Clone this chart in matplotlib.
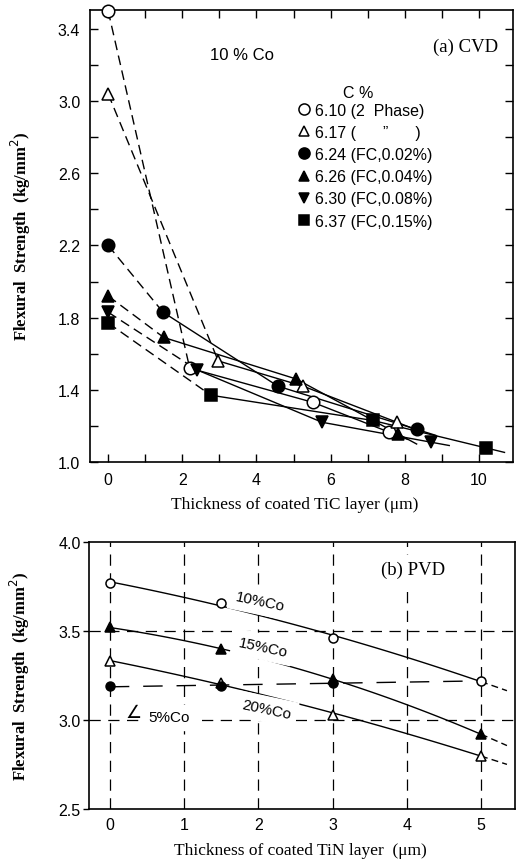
import numpy as np
import matplotlib
matplotlib.use("Agg")
import matplotlib.pyplot as plt
from matplotlib.lines import Line2D

# ---------------- data: panel (a) CVD ----------------
cvd_labels = ["6.10 (2  Phase)", "6.17 (      \u201d      )", "6.24 (FC,0.02%)",
              "6.26 (FC,0.04%)", "6.30 (FC,0.08%)", "6.37 (FC,0.15%)"]
cvd_x_610 = [0, 2.2, 5.53, 7.57]
cvd_y_610 = [3.50, 1.52, 1.33, 1.166]
cvd_x_617 = [0, 2.97, 5.26, 7.79]
cvd_y_617 = [3.04, 1.56, 1.42, 1.22]
cvd_x_624 = [0, 1.48, 4.58, 8.33]
cvd_y_624 = [2.20, 1.83, 1.42, 1.18]
cvd_x_626 = [0, 1.5, 5.07, 7.82]
cvd_y_626 = [1.92, 1.69, 1.46, 1.155]
cvd_x_630 = [0, 2.4, 5.77, 8.7]
cvd_y_630 = [1.83, 1.51, 1.22, 1.11]
cvd_x_637 = [0, 2.77, 7.14, 10.19]
cvd_y_637 = [1.77, 1.37, 1.23, 1.078]

# ---------------- data: panel (b) PVD ----------------
pvd_x = [0, 1.5, 3, 5]
pvd_10co = [3.77, 3.66, 3.46, 3.22]
pvd_15co = [3.52, 3.40, 3.23, 2.92]
pvd_20co = [3.33, 3.21, 3.03, 2.80]
pvd_x5 = [0, 1.5, 3]
pvd_5co = [3.19, 3.19, 3.21]

SANS = ["Liberation Sans", "DejaVu Sans"]
SERIF = ["Liberation Serif", "DejaVu Serif"]

fig = plt.figure(figsize=(5.21, 8.62), dpi=100)

# ================= panel (a) =================
axa = fig.add_axes([0.1727, 0.4629, 0.812, 0.5244])
axa.set_xlim(-0.49, 10.92)
axa.set_ylim(1.0, 3.505)

dash = (0, (7, 4))
lw = 1.0
mk_specs = [("o", "white"), ("^", "white"), ("o", "black"),
            ("^", "black"), ("v", "black"), ("s", "black")]
mk_sizes = [9, 8, 9, 8, 8, 8]
series = [(cvd_x_610, cvd_y_610), (cvd_x_617, cvd_y_617), (cvd_x_624, cvd_y_624),
          (cvd_x_626, cvd_y_626), (cvd_x_630, cvd_y_630), (cvd_x_637, cvd_y_637)]

for (xs, ys), (m, fc), ms in zip(series, mk_specs, mk_sizes):
    xs = np.asarray(xs, float)
    ys = np.asarray(ys, float)
    # dashed first segment from the uncoated value
    axa.plot(xs[:2], ys[:2], color="black", lw=lw, linestyle=dash, zorder=2)
    # solid through coated values, extended slightly past last point
    slope = (ys[-1] - ys[-2]) / (xs[-1] - xs[-2])
    ext_x = xs[-1] + 0.5
    ext_y = ys[-1] + slope * 0.5
    axa.plot(np.append(xs[1:], ext_x), np.append(ys[1:], ext_y),
             color="black", lw=lw, zorder=2)
    axa.plot(xs, ys, linestyle="none", marker=m, markersize=ms,
             markerfacecolor=fc, markeredgecolor="black", markeredgewidth=1.1,
             zorder=3, clip_on=False)

axa.set_xticks(range(0, 11, 2))
axa.set_xticks(range(0, 11), minor=True)
axa.set_yticks(np.arange(1.0, 3.45, 0.4))
axa.set_yticks(np.arange(1.0, 3.45, 0.2), minor=True)
axa.set_yticklabels([f"{v:.1f}" for v in np.arange(1.0, 3.45, 0.4)])
axa.tick_params(which="both", direction="in", top=True, right=True,
                width=1.0, labelsize=11.5)
axa.tick_params(which="major", length=6, pad=7)
axa.tick_params(which="minor", length=6)
for lab in axa.get_xticklabels() + axa.get_yticklabels():
    lab.set_family(SANS)
for sp in axa.spines.values():
    sp.set_linewidth(1.2)

axa.set_xlabel("Thickness of coated TiC layer (\u03bcm)", family=SERIF, fontsize=12.5)
axa.xaxis.set_label_coords(0.485, -0.075)
axa.set_ylabel("Flexural  Strength  (kg/mm$^2$)", family=SERIF, fontsize=12,
               fontweight="bold")
axa.yaxis.set_label_coords(-0.135, 0.5)

axa.text(0.359, 0.901, "10 % Co", transform=axa.transAxes, family=SANS,
         fontsize=12, ha="center", va="center")
axa.text(0.888, 0.919, "(a) CVD", transform=axa.transAxes, family=SERIF,
         fontsize=13.5, ha="center", va="center")
axa.text(0.635, 0.818, "C %", transform=axa.transAxes, family=SANS,
         fontsize=11.5, ha="center", va="center")

handles = [Line2D([], [], linestyle="none", marker=m, markersize=ms - 1,
                  markerfacecolor=fc, markeredgecolor="black", markeredgewidth=1.1)
           for (m, fc), ms in zip(mk_specs, mk_sizes)]
leg = axa.legend(handles, cvd_labels, loc="upper left",
                 bbox_to_anchor=(0.49, 0.795), frameon=False,
                 handlelength=0.8, handletextpad=0.3, labelspacing=0.45,
                 borderaxespad=0, borderpad=0,
                 prop={"family": SANS, "size": 11.5})

# ================= panel (b) =================
axb = fig.add_axes([0.171, 0.0603, 0.8177, 0.3097])
axb.set_xlim(-0.28, 5.46)
axb.set_ylim(2.5, 4.0)

# broken grid lines
grid_dash = (0, (9, 6))
for gx in range(0, 6):
    axb.axvline(gx, color="black", lw=0.9, linestyle=grid_dash, zorder=1)
for gy in (3.0, 3.5):
    axb.axhline(gy, color="black", lw=0.9, linestyle=grid_dash, zorder=1)

xf = np.linspace(0, 5, 100)
xe = np.linspace(5, 5.35, 10)
pvd_sets = [(pvd_10co, "o", "white", 6.5), (pvd_15co, "^", "black", 6.5),
            (pvd_20co, "^", "white", 6.5)]
for ys, m, fc, ms in pvd_sets:
    coef = np.polyfit(pvd_x, ys, 2)
    axb.plot(xf, np.polyval(coef, xf), color="black", lw=1.0, zorder=2)
    axb.plot(xe, np.polyval(coef, xe), color="black", lw=1.0,
             linestyle=(0, (5, 3)), zorder=2)
    axb.plot(pvd_x, ys, linestyle="none", marker=m, markersize=ms,
             markerfacecolor=fc, markeredgecolor="black", markeredgewidth=1.1,
             zorder=3)

coef5 = np.polyfit(pvd_x5, pvd_5co, 1)
x5 = np.linspace(0, 5, 50)
axb.plot(x5, np.polyval(coef5, x5), color="black", lw=1.0,
         linestyle=(0, (14, 10)), zorder=2)
axb.plot(pvd_x5, pvd_5co, linestyle="none", marker="o", markersize=6.5,
         markerfacecolor="black", markeredgecolor="black", zorder=4)

axb.text(2.02, 3.665, "10%Co", family=SANS, fontsize=11, rotation=-12,
         ha="center", va="center", backgroundcolor="white", zorder=5)
axb.text(2.06, 3.41, "15%Co", family=SANS, fontsize=11, rotation=-12,
         ha="center", va="center", backgroundcolor="white", zorder=5)
axb.text(2.11, 3.06, "20%Co", family=SANS, fontsize=11, rotation=-12,
         ha="center", va="center", backgroundcolor="white", zorder=5)
axb.text(0.80, 3.015, "5%Co", family=SANS, fontsize=11,
         ha="center", va="center", backgroundcolor="white", zorder=5)
axb.text(0.32, 3.04, "\u2220", family=SANS, fontsize=13,
         ha="center", va="center", zorder=5)
axb.text(4.08, 3.845, "(b) PVD", family=SERIF, fontsize=13.5,
         ha="center", va="center", backgroundcolor="white", zorder=5)

axb.set_xticks(range(0, 6))
axb.set_yticks([2.5, 3.0, 3.5, 4.0])
axb.set_yticklabels(["2.5", "3.0", "3.5", "4.0"])
axb.tick_params(axis="y", direction="out", length=4, width=1.0, labelsize=11.5, pad=2)
axb.tick_params(axis="x", direction="in", length=0, labelsize=11.5, pad=6)
for lab in axb.get_xticklabels() + axb.get_yticklabels():
    lab.set_family(SANS)
for sp in axb.spines.values():
    sp.set_linewidth(1.2)

axb.set_xlabel("Thickness of coated TiN layer  (\u03bcm)", family=SERIF, fontsize=12.5)
axb.xaxis.set_label_coords(0.495, -0.125)
axb.set_ylabel("Flexural  Strength  (kg/mm$^2$)", family=SERIF, fontsize=12,
               fontweight="bold")
axb.yaxis.set_label_coords(-0.135, 0.5)

fig.savefig("out.png", dpi=100)
